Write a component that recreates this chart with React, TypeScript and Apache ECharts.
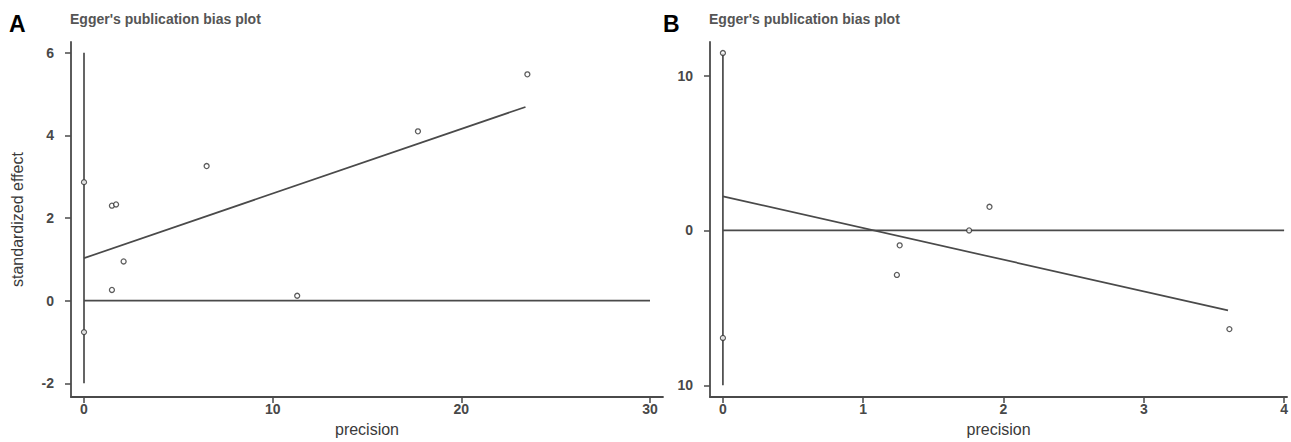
import React, { useEffect, useRef } from "react";
import * as echarts from "echarts";

// Panel A data (precision, standardized effect)
const pointsA: [number, number][] = [
  [0, 2.87],
  [0, -0.76],
  [1.48, 2.3],
  [1.7, 2.33],
  [2.1, 0.95],
  [1.48, 0.26],
  [6.5, 3.26],
  [11.3, 0.12],
  [17.7, 4.1],
  [23.5, 5.48],
];
const regressionA: [number, number][] = [
  [0, 1.03],
  [23.4, 4.69],
];
const verticalA: [number, number][] = [
  [0, -2],
  [0, 6],
];
const zeroA: [number, number][] = [
  [0, 0],
  [30, 0],
];
const xTicksA = [0, 10, 20, 30];
const yTicksA = [-2, 0, 2, 4, 6];

// Panel B data
const pointsB: [number, number][] = [
  [0, 11.46],
  [0, -6.94],
  [1.26, -0.96],
  [1.24, -2.87],
  [1.755, 0],
  [1.9, 1.53],
  [3.61, -6.37],
];
const regressionB: [number, number][] = [
  [0, 2.2],
  [3.6, -5.16],
];
const verticalB: [number, number][] = [
  [0, -10],
  [0, 11.46],
];
const zeroB: [number, number][] = [
  [0, 0],
  [4, 0],
];
const xTicksB = [0, 1, 2, 3, 4];
const yTicksB = [-10, 0, 10];
const yTickLabelsB = ["10", "0", "10"];

const titleText = "Egger's publication bias plot";
const panelLabels = ["A", "B"];

const FONT = "'Liberation Sans', Arial, sans-serif";
const AXIS = "#4a4a4a";
const TEXT = "#484848";

function axisCommon(ticks: number[]) {
  return {
    type: "value" as const,
    splitLine: { show: false },
    axisLine: { show: true, onZero: false, lineStyle: { color: AXIS, width: 1.8 } },
    axisTick: {
      show: true,
      customValues: ticks,
      length: 6,
      lineStyle: { color: AXIS, width: 1.5 },
    },
  };
}

export default function App() {
  const ref = useRef<HTMLDivElement>(null);
  useEffect(() => {
    if (!ref.current) return;
    const chart = echarts.init(ref.current, undefined, { renderer: "svg" });
    const lineSeries = (data: [number, number][], idx: number) => ({
      type: "line" as const,
      xAxisIndex: idx,
      yAxisIndex: idx,
      data,
      showSymbol: false,
      symbol: "none",
      lineStyle: { color: AXIS, width: 1.7 },
      silent: true,
      z: 2,
    });
    const scatter = (data: [number, number][], idx: number) => ({
      type: "scatter" as const,
      xAxisIndex: idx,
      yAxisIndex: idx,
      data,
      symbol: "circle",
      symbolSize: 5,
      itemStyle: { color: "#fff", borderColor: "#333", borderWidth: 1.3 },
      z: 5,
    });
    const xLabel = (ticks: number[]) => ({
      customValues: ticks,
      color: TEXT,
      fontSize: 14,
      fontWeight: "bold",
      fontFamily: FONT,
      margin: 5,
    });
    const xName = {
      name: "precision",
      nameLocation: "middle",
      nameGap: 22,
      nameTextStyle: { color: "#3a3a3a", fontSize: 16, fontFamily: FONT, verticalAlign: "top" },
    };
    const option: any = {
      animation: false,
      backgroundColor: "#fff",
      textStyle: { fontFamily: FONT },
      grid: [
        { left: 71, top: 42, width: 592, height: 361 },
        { left: 710, top: 42, width: 581, height: 361 },
      ],
      xAxis: [
        {
          ...axisCommon(xTicksA),
          ...xName,
          gridIndex: 0,
          min: -0.689,
          max: 30.689,
          axisLabel: xLabel(xTicksA),
        },
        {
          ...axisCommon(xTicksB),
          ...xName,
          gridIndex: 1,
          min: -0.092,
          max: 4.021,
          axisLabel: xLabel(xTicksB),
        },
      ],
      yAxis: [
        {
          ...axisCommon(yTicksA),
          gridIndex: 0,
          min: -2.333,
          max: 6.262,
          name: "standardized effect",
          nameLocation: "middle",
          nameGap: 46,
          nameRotate: 90,
          nameTextStyle: { color: "#3a3a3a", fontSize: 16, fontFamily: FONT },
          axisLabel: {
            customValues: yTicksA,
            color: TEXT,
            fontSize: 14,
            fontWeight: "bold",
            fontFamily: FONT,
            margin: 17,
          },
        },
        {
          ...axisCommon(yTicksB),
          gridIndex: 1,
          min: -10.76,
          max: 12.17,
          axisLabel: {
            customValues: yTicksB,
            color: TEXT,
            fontSize: 14,
            fontWeight: "bold",
            fontFamily: FONT,
            margin: 17,
            formatter: (v: number) => {
              const i = yTicksB.indexOf(Math.round(v));
              return i >= 0 ? yTickLabelsB[i] : String(v);
            },
          },
        },
      ],
      graphic: [
        {
          type: "text",
          left: 9,
          top: 12,
          style: { text: panelLabels[0], font: `bold 23px ${FONT}`, fill: "#000" },
        },
        {
          type: "text",
          left: 663,
          top: 12,
          style: { text: panelLabels[1], font: `bold 23px ${FONT}`, fill: "#000" },
        },
        {
          type: "text",
          left: 70,
          top: 12,
          style: { text: titleText, font: `bold 14px ${FONT}`, fill: "#555" },
        },
        {
          type: "text",
          left: 709,
          top: 12,
          style: { text: titleText, font: `bold 14px ${FONT}`, fill: "#555" },
        },
      ],
      series: [
        lineSeries(verticalA, 0),
        lineSeries(zeroA, 0),
        lineSeries(regressionA, 0),
        scatter(pointsA, 0),
        lineSeries(verticalB, 1),
        lineSeries(zeroB, 1),
        lineSeries(regressionB, 1),
        scatter(pointsB, 1),
      ],
    };
    chart.setOption(option);
    return () => chart.dispose();
  }, []);
  return (
    <div
      ref={ref}
      style={{ position: "fixed", left: 0, top: 0, width: 1291, height: 442, background: "#fff" }}
    />
  );
}
